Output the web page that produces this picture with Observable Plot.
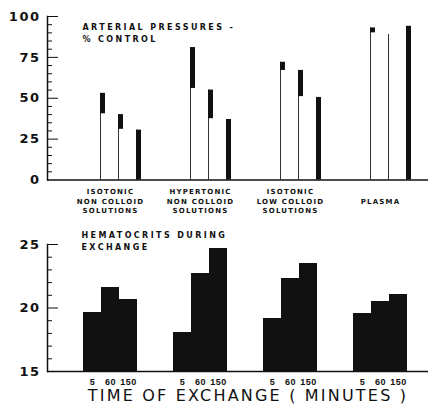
<!DOCTYPE html>
<html><head><meta charset="utf-8">
<script src="https://cdn.jsdelivr.net/npm/d3@7"></script>
<script src="https://cdn.jsdelivr.net/npm/@observablehq/plot@0.6"></script>
<style>
body{margin:0;background:#fff;}
#chart{width:428px;}
#chart svg{display:block;}
#chart g[font-size="8"]{letter-spacing:2.4px;}
#chart g[font-size="7"]{letter-spacing:1.2px;}
#chart g[font-size="13"]{letter-spacing:1.5px;}
#chart g[font-size="9"]{letter-spacing:0.5px;}
#chart g[font-size="16"]{letter-spacing:2.2px;}
</style></head><body><div id="chart"></div>
<script>
const groups = ["ISOTONIC\nNON COLLOID\nSOLUTIONS", "HYPERTONIC\nNON COLLOID\nSOLUTIONS", "ISOTONIC\nLOW COLLOID\nSOLUTIONS", "PLASMA"];
const times = ["5", "60", "150"];
const pressureTop = [[53, 40, 30.5], [81, 55, 37], [72, 67, 50.5], [93, 89, 94]];
const pressureFlagBottom = [[40.5, 31, 0], [56, 37.5, 0], [67, 51, 0], [90, 89, 0]];
const hematocrit = [[19.65, 21.6, 20.7], [18.1, 22.7, 24.7], [19.2, 22.3, 23.5], [19.6, 20.5, 21.1]];
const pressureTicks = [0, 25, 50, 75, 100];
const pressureMinorTicks = [5, 10, 15, 20, 30, 35, 40, 45, 55, 60, 65, 70, 80, 85, 90, 95];
const hematocritTicks = [15, 20, 25];
const hematocritMinorTicks = [16, 17, 18, 19, 21, 22, 23, 24];
const pressureTitle = "ARTERIAL PRESSURES -\n% CONTROL";
const hematocritTitle = "HEMATOCRITS DURING\nEXCHANGE";
const xTitle = "TIME OF EXCHANGE ( MINUTES )";

const rows = groups.flatMap((g, i) => times.map((t, j) => ({
  group: g, key: i + "|" + t, time: t,
  hi: pressureTop[i][j], lo: pressureFlagBottom[i][j], hct: hematocrit[i][j]
})));
const realKeys = rows.map(d => d.key);
const xDomain = groups.flatMap((g, i) => [...times.map(t => i + "|" + t), i + "|gap1", i + "|gap2"]);
const xScale = {domain: xDomain, range: [83, 443], paddingInner: 0, paddingOuter: 0, axis: null};
const ink = "#111";
const font = {fontFamily: "DejaVu Sans", background: "#fff", color: ink};

const topPlot = Plot.plot({
  width: 428, height: 187, marginLeft: 47, marginRight: 0, marginTop: 16, marginBottom: 7.5,
  style: font,
  x: xScale,
  y: {domain: [0, 100], axis: null},
  marks: [
    Plot.barY(rows, {x: "key", y1: 0, y2: "hi", insetLeft: 17, fill: "#333"}),
    Plot.barY(rows, {x: "key", y1: "lo", y2: "hi", insetLeft: 17, insetRight: -4, fill: ink}),
    Plot.ruleY(pressureMinorTicks, {insetRight: 381 - 5, stroke: ink}),
    Plot.ruleY(pressureTicks.filter(v => v > 0), {insetRight: 381 - 11, stroke: ink}),
    Plot.ruleY([0], {stroke: ink, strokeWidth: 1.5}),
    Plot.frame({anchor: "left", stroke: ink, strokeWidth: 1.5}),
    Plot.axisY(pressureTicks, {tickSize: 0, tickPadding: 7, label: null, fontSize: 13, fontWeight: "bold", fill: ink}),
    Plot.text([pressureTitle], {frameAnchor: "top-left", dx: 35, dy: 5, lineAnchor: "top", textAnchor: "start", fontSize: 8, fontWeight: "bold", lineHeight: 1.5, fill: ink})
  ]
});

const bottomPlot = Plot.plot({
  width: 428, height: 222, marginLeft: 47, marginRight: 0, marginTop: 57, marginBottom: 38,
  style: font,
  x: xScale,
  y: {domain: [15, 25], axis: null},
  marks: [
    Plot.barY(rows, {x: "key", y1: 15, y2: "hct", fill: ink, shapeRendering: "crispEdges"}),
    Plot.ruleY(hematocritMinorTicks, {insetRight: 381 - 5, stroke: ink}),
    Plot.ruleY([20, 25], {insetRight: 381 - 11, stroke: ink}),
    Plot.ruleY([15], {stroke: ink, strokeWidth: 1.5}),
    Plot.frame({anchor: "left", stroke: ink, strokeWidth: 1.5}),
    Plot.axisY(hematocritTicks, {tickSize: 0, tickPadding: 7, label: null, fontSize: 13, fontWeight: "bold", fill: ink}),
    Plot.axisX(realKeys, {tickSize: 0, tickPadding: 7, tickFormat: k => k.split("|")[1], fontSize: 9, fontFamily: "Liberation Sans", fontWeight: "bold", label: null, fill: ink}),
    Plot.text(groups, {x: (g, i) => i + "|60", frameAnchor: "top", dy: -44, lineAnchor: "middle", lineHeight: 1.36, fontSize: 7, fontWeight: "bold", fill: ink}),
    Plot.text([hematocritTitle], {frameAnchor: "top-left", dx: 34, dy: -16, lineAnchor: "top", textAnchor: "start", fontSize: 8, fontWeight: "bold", lineHeight: 1.6, fill: ink}),
    Plot.text([xTitle], {frameAnchor: "bottom", dx: 10, dy: 29, fontSize: 16, fill: ink})
  ]
});

document.getElementById("chart").append(topPlot, bottomPlot);
</script></body></html>
